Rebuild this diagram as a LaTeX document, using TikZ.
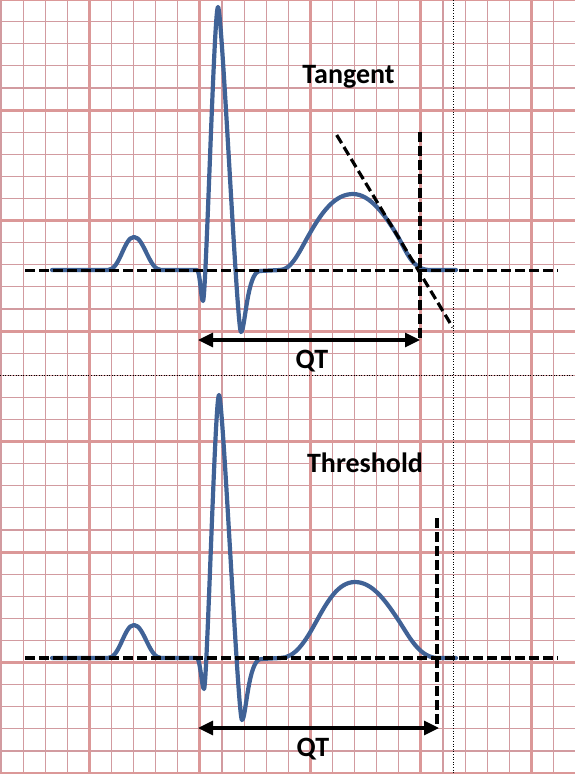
\documentclass[tikz,border=0pt]{standalone}
\usepackage{fontspec}
\setmainfont{Carlito}
\usetikzlibrary{arrows.meta}
\definecolor{gridmajor}{RGB}{219,152,152}
\definecolor{gridminor}{RGB}{210,155,160}
\definecolor{ecgblue}{RGB}{64,98,150}
\tikzset{
  minorgrid/.style={gridminor, line width=1.2pt},
  majorgrid/.style={gridmajor, line width=3pt},
  sepdots/.style={black, line width=0.9pt, dash pattern=on 1pt off 1.6pt},
  ecgline/.style={ecgblue, line width=4.2pt, line cap=round, line join=round},
  dashln/.style={black, line width=3.6pt, dash pattern=on 9.5pt off 4.5pt},
  tangentln/.style={black, line width=3.2pt, dash pattern=on 9.5pt off 4.5pt},
  qtarrow/.style={black, line width=3.2pt,
    {Triangle[length=15pt,width=14pt]}-{Triangle[length=15pt,width=14pt]}},
  lbl/.style={font=\fontsize{28}{31}\selectfont\bfseries, inner sep=0pt, anchor=base},
}
\begin{document}
\begin{tikzpicture}[x=1pt,y=-1pt]
\useasboundingbox (0,0) rectangle (575,774);
\fill[white] (0,0) rectangle (575,774);
% grid
\begin{scope}
\clip (0,0) rectangle (575,774);
\foreach \n in {0,...,25}{
  \pgfmathsetmacro\xx{1+22.1*\n}
  \draw[minorgrid] (\xx,0) -- (\xx,774);
}
\foreach \m in {0,...,35}{
  \pgfmathsetmacro\yy{-0.5+22.1*\m}
  \draw[minorgrid] (0,\yy) -- (575,\yy);
}
\foreach \n in {0,...,4}{
  \pgfmathsetmacro\xx{89.4+110.5*\n}
  \draw[majorgrid] (\xx,0) -- (\xx,774);
}
\foreach \m in {0,...,7}{
  \pgfmathsetmacro\yy{-0.5+110.5*\m}
  \draw[majorgrid] (0,\yy) -- (575,\yy);
}
\end{scope}
% separator dotted lines
\coordinate (sepL) at (0,375.6);
\coordinate (sepR) at (575,375.6);
\coordinate (vdT) at (453.3,0);
\coordinate (vdB) at (453.3,774);
\draw[sepdots] (sepL) -- (sepR);
\draw[sepdots] (vdT) -- (vdB);

% ---------- top ECG ----------
\draw[ecgline] (52,270) -- (108,270)
  .. controls (120,270) and (124,237) .. (134,237)
  .. controls (144,237) and (149,270) .. (161,270)
  -- (197,270)
  .. controls (200,270) and (201,301) .. (203,301)
  .. controls (206,301) and (214,7) .. (218,7)
  .. controls (222,7) and (237,332) .. (241,332)
  .. controls (245,332) and (247,271) .. (260,271)
  -- (280,270)
  .. controls (292,270) and (300,250) .. (310,233)
  .. controls (322,212) and (335,194) .. (353,194)
  .. controls (370,194) and (385,215) .. (397,235)
  .. controls (407,252) and (412,270) .. (430,270)
  -- (456,270);
% top construction lines
\coordinate (bl1L) at (25,270.5);
\coordinate (bl1R) at (558,270.5);
\draw[dashln] (bl1L) -- (bl1R);
\coordinate (tanA) at (336.7,135);
\coordinate (tanB) at (452.7,327.3);
\draw[tangentln] (tanA) -- (tanB);
\coordinate (vt1T) at (420,132);
\coordinate (vt1B) at (420,340);
\draw[dashln] (vt1T) -- (vt1B);
\coordinate (qt1L) at (198,340);
\coordinate (qt1R) at (420,340);
\draw[qtarrow] (qt1L) -- (qt1R);
\node[lbl] (tangent) at (348.5,83.3) {Tangent};
\node[lbl] (qt1) at (312,368.3) {QT};

% ---------- bottom ECG ----------
\draw[ecgline] (52,658) -- (108,658)
  .. controls (120,658) and (124,625) .. (134,625)
  .. controls (144,625) and (149,658) .. (161,658)
  -- (197,658)
  .. controls (200,658) and (202,689) .. (204,689)
  .. controls (207,689) and (215,395) .. (219,395)
  .. controls (223,395) and (238,720) .. (242,720)
  .. controls (246,720) and (248,659) .. (261,659)
  -- (280,658)
  .. controls (295,658) and (305,642) .. (316,622)
  .. controls (327,602) and (338,582) .. (355,582)
  .. controls (372,582) and (385,600) .. (397,618)
  .. controls (408,634) and (418,657) .. (437,658)
  -- (456,658);
\coordinate (bl2L) at (25,658);
\coordinate (bl2R) at (558,658);
\draw[dashln] (bl2L) -- (bl2R);
\coordinate (vt2T) at (437,518);
\coordinate (vt2B) at (437,728);
\draw[dashln] (vt2T) -- (vt2B);
\coordinate (qt2L) at (198,728);
\coordinate (qt2R) at (439,728);
\draw[qtarrow] (qt2L) -- (qt2R);
\node[lbl] (threshold) at (365,472) {Threshold};
\node[lbl] (qt2) at (313,756.3) {QT};
\end{tikzpicture}
\end{document}
